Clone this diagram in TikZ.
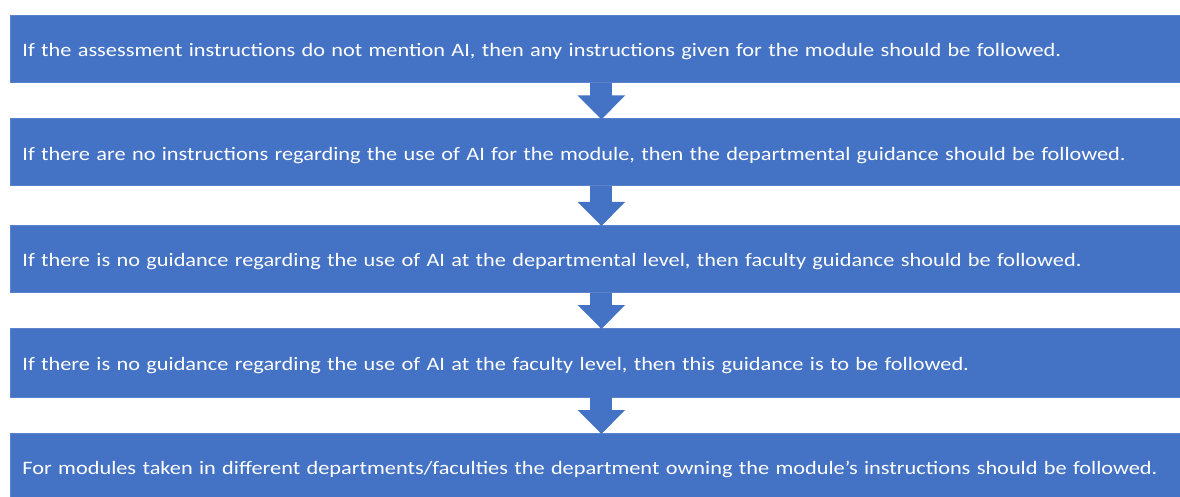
\documentclass[tikz,border=0pt]{standalone}
\usepackage{fontspec}
\setmainfont{Carlito}[FakeStretch=1.175]
\usetikzlibrary{arrows.meta}
\definecolor{boxblue}{HTML}{4472C4}
\definecolor{boxedge}{HTML}{5B83CC}
\begin{document}
\begin{tikzpicture}[x=1pt,y=-1pt,
  stepbox/.style={rectangle, fill=boxblue, draw=boxedge, line width=0.8pt,
    minimum width=1168pt, minimum height=67pt, text width=1146pt,
    inner xsep=12pt, inner ysep=0pt, align=left, text=white,
    text height=20pt, text depth=4.6pt,
    font=\fontsize{19}{22}\selectfont, anchor=north west},
  flowarrow/.style={draw=boxblue, line width=22pt,
    -{Triangle[width=46pt,length=24pt]}, shorten >=-1pt}]
\useasboundingbox (0,0) rectangle (1180,497);
\clip (0,0) rectangle (1180,497);
\node[stepbox] (b1) at (10,15) {If the assessment instructions do not mention AI, then any instructions given for the module should be followed.};
\node[stepbox] (b2) at (10,118.5) {If there are no instructions regarding the use of AI for the module, then the departmental guidance should be followed.};
\node[stepbox] (b3) at (10,225) {If there is no guidance regarding the use of AI at the departmental level, then faculty guidance should be followed.};
\node[stepbox, minimum height=68.5pt] (b4) at (10,328) {If there is no guidance regarding the use of AI at the faculty level, then this guidance is to be followed.};
\node[stepbox] (b5) at (10,433) {For modules taken in different departments/faculties the department owning the module’s instructions should be followed.};
\draw[flowarrow] ([xshift=6pt]b1.south) -- ([xshift=6pt]b2.north);
\draw[flowarrow] ([xshift=6pt]b2.south) -- ([xshift=6pt]b3.north);
\draw[flowarrow] ([xshift=6pt]b3.south) -- ([xshift=6pt]b4.north);
\draw[flowarrow] ([xshift=6pt]b4.south) -- ([xshift=6pt]b5.north);
\end{tikzpicture}
\end{document}
